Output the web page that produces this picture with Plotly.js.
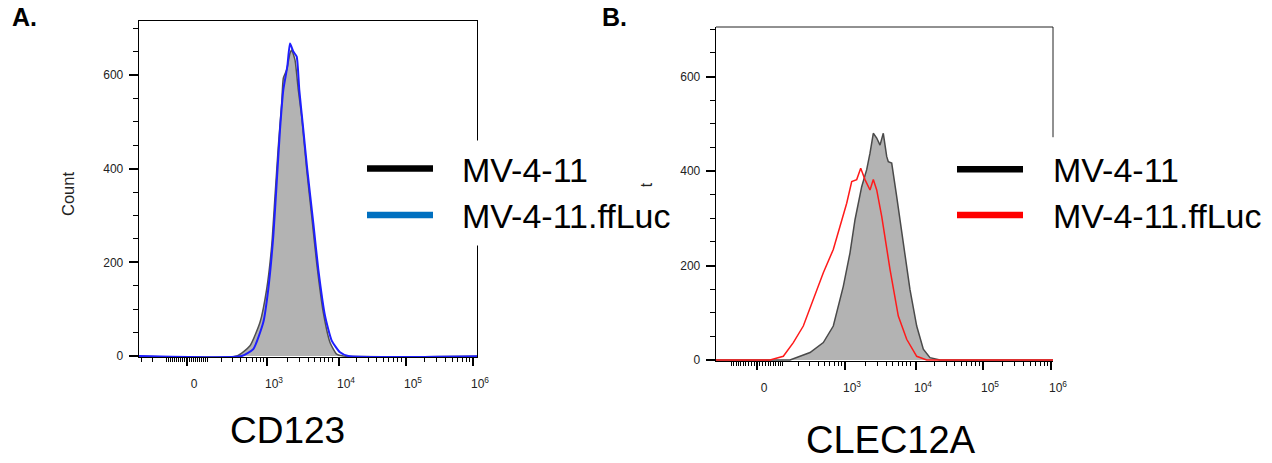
<!DOCTYPE html>
<html>
<head>
<meta charset="utf-8">
<script src="https://cdn.plot.ly/plotly-3.0.1.min.js"></script>
<style>html,body{margin:0;padding:0;background:#fff}#chart{width:1272px;height:463px}</style>
</head>
<body>
<div id="chart"></div>
<script>
// ---- Data (x in display units of the biexponential axis, y = cell count) ----
const cd123_parent_x = [-1.7, 1.668, 2.114, 2.450, 2.674, 2.842, 2.953, 3.064, 3.178, 3.232, 3.346, 3.456, 3.513, 3.624, 3.735, 3.849, 4.017, 4.185, 4.352, 4.574, 4.799, 5.023, 5.245, 10];
const cd123_parent_y = [0, 0, 22, 72, 143, 235, 341, 447, 540, 593, 611, 646, 653, 632, 568, 511, 398, 299, 199, 93, 29, 4, 0, 0];
const cd123_fluc_x = [-1.7, 1.836, 2.225, 2.560, 2.728, 2.896, 3.010, 3.121, 3.232, 3.366, 3.456, 3.567, 3.681, 3.768, 3.903, 4.037, 4.238, 4.406, 4.631, 4.856, 5.134, 5.413, 10];
const cd123_fluc_y = [0, 0, 15, 72, 143, 256, 370, 483, 568, 618, 667, 650, 639, 568, 483, 398, 284, 185, 86, 33, 8, 0, 0];

const clec_parent_x = [-1.5, 1.107, 1.779, 2.225, 2.560, 2.896, 3.121, 3.289, 3.513, 3.681, 3.792, 3.903, 4.017, 4.128, 4.238, 4.352, 4.406, 4.520, 4.688, 4.909, 5.134, 5.359, 5.581, 5.805, 6.141, 10.2];
const clec_parent_y = [0, 0, 16, 37, 72, 156, 227, 297, 367, 403, 438, 480, 470, 455, 480, 431, 420, 417, 346, 248, 149, 72, 23, 5, 0, 0];
const clec_fluc_x = [-1.5, 0.436, 0.883, 1.218, 1.554, 1.889, 2.225, 2.560, 2.785, 3.010, 3.178, 3.346, 3.480, 3.624, 3.792, 3.903, 4.017, 4.185, 4.463, 4.742, 5.023, 5.359, 5.695, 10.2];
const clec_fluc_y = [0, 0, 8, 37, 72, 128, 185, 234, 283, 332, 378, 382, 406, 382, 360, 382, 360, 304, 192, 93, 44, 8, 0, 0];

const seriesNames = ["MV-4-11", "MV-4-11.ffLuc"];
const markerNames = ["CD123", "CLEC12A"];
const xTickText = ["0", "10<sup>3</sup>", "10<sup>4</sup>", "10<sup>5</sup>", "10<sup>6</sup>"];
const xTickValsA = [0, 2.685, 5.101, 7.349, 9.597];
const xTickValsB = [0, 2.953, 5.336, 7.584, 9.866];
const yTickVals = [0, 200, 400, 600];

// minor ticks on biexponential axis (asinh transform)
function minorTicks(c) {
  const out = [];
  const vals = [];
  for (let k = 1; k <= 9; k++) { vals.push(k * 10, -k * 10, k * 100, -k * 100); }
  for (let d = 1e3; d < 1e6; d *= 10) for (let k = 2; k <= 9; k++) vals.push(k * d);
  vals.forEach(v => out.push(Math.asinh(v / c)));
  return out;
}

const W = 1272, H = 463;
const px = v => v / W, py = v => 1 - v / H;

const font = "Liberation Sans, Arial, sans-serif";

function xAxis(dom, range, tickvals, c, mirror) {
  return {
    domain: dom, range: range, tickmode: "array", tickvals: tickvals, ticktext: xTickText,
    ticks: "outside", ticklen: 8, tickwidth: 2, tickcolor: "#000",
    showline: true, linecolor: "#000", linewidth: 1.3, mirror: mirror,
    showgrid: false, zeroline: false, ticklabelstandoff: 7, ticklabelshift: 7,
    tickfont: {family: font, size: 12, color: "#222"},
    minor: {tickmode: "array", tickvals: minorTicks(c), ticks: "outside", ticklen: 4, tickwidth: 1, tickcolor: "#000", showgrid: false},
    fixedrange: true
  };
}
function yAxis(dom, range, anchor, mirror) {
  return {
    domain: dom, range: range, anchor: anchor, tickmode: "array", tickvals: yTickVals,
    ticks: "outside", ticklen: 9, tickwidth: 2, tickcolor: "#000",
    showline: true, linecolor: "#000", linewidth: 1.3, mirror: mirror,
    showgrid: false, zeroline: false, ticklabelstandoff: 3,
    tickfont: {family: font, size: 12, color: "#222"},
    minor: {dtick: 50, tick0: 0, ticks: "outside", ticklen: 5, tickwidth: 1, tickcolor: "#000", showgrid: false},
    fixedrange: true
  };
}

const traces = [
  {x: cd123_parent_x, y: cd123_parent_y, xaxis: "x", yaxis: "y", type: "scatter", mode: "lines",
   fill: "tozeroy", fillcolor: "#b3b3b3", line: {color: "#505050", width: 1.5, shape: "spline", smoothing: 0.5}, name: seriesNames[0]},
  {x: cd123_fluc_x, y: cd123_fluc_y, xaxis: "x", yaxis: "y", type: "scatter", mode: "lines",
   line: {color: "#1f1fff", width: 2, shape: "spline", smoothing: 0.5}, name: seriesNames[1]},
  {x: clec_parent_x, y: clec_parent_y, xaxis: "x2", yaxis: "y2", type: "scatter", mode: "lines",
   fill: "tozeroy", fillcolor: "#b3b3b3", line: {color: "#4a4a4a", width: 1.5}, name: seriesNames[0]},
  {x: clec_fluc_x, y: clec_fluc_y, xaxis: "x2", yaxis: "y2", type: "scatter", mode: "lines",
   line: {color: "#ff1a1a", width: 1.5}, name: seriesNames[1]}
];

const ann = [];
const textAnn = (x, y, text, size, extra) => Object.assign({
  xref: "paper", yref: "paper", x: px(x), y: py(y), text: text, showarrow: false,
  xanchor: "center", yanchor: "middle", font: {family: font, size: size, color: "#000"}
}, extra || {});

ann.push(textAnn(10, 17, "<b>A.</b>", 25, {xanchor: "left"}));
ann.push(textAnn(600, 17, "<b>B.</b>", 25, {xanchor: "left"}));
ann.push(textAnn(68, 194, "Count", 16.5, {textangle: -90, font: {family: font, size: 16.5, color: "#222"}}));
ann.push(textAnn(646, 205, "Count", 16.5, {textangle: -90, font: {family: font, size: 16.5, color: "#222"}}));
ann.push(textAnn(287, 430, markerNames[0], 37));
ann.push(textAnn(891, 440, markerNames[1], 38));
// legend texts (white boxes)
[[451, 170, seriesNames[0]], [451, 216.5, seriesNames[1]], [1042, 170, seriesNames[0]], [1042, 216.5, seriesNames[1]]].forEach(d => {
  ann.push(textAnn(d[0], d[1], d[2], 34, {xanchor: "left", bgcolor: "#fff", borderpad: 10}));
});

const shapes = [];
const seg = (x0, y0, x1, y1, color, w) => ({type: "line", xref: "paper", yref: "paper",
  x0: px(x0), y0: py(y0), x1: px(x1), y1: py(y1), line: {color: color, width: w}, layer: "above"});
shapes.push(seg(367, 168.5, 433, 168.5, "#000", 6.5));
shapes.push(seg(367, 215, 433, 215, "#0070c0", 6.5));
shapes.push(seg(957, 169.3, 1023, 169.3, "#000", 6.5));
shapes.push(seg(957, 215, 1023, 215, "#ff0000", 6.5));
// right panel frame (top and upper right side)
shapes.push({type: "line", xref: "x2 domain", yref: "y2 domain", x0: 0, x1: 1, y0: 1, y1: 1, line: {color: "#222", width: 1}});
shapes.push({type: "line", xref: "x2 domain", yref: "y2 domain", x0: 1, x1: 1, y0: 1, y1: 0.67, line: {color: "#222", width: 1}});

const layout = {
  width: W, height: H, margin: {l: 0, r: 0, t: 0, b: 0},
  paper_bgcolor: "#fff", plot_bgcolor: "#fff", showlegend: false,
  xaxis: xAxis([px(139), px(477)], [-1.611, 9.732], xTickValsA, 136.7, true),
  yaxis: yAxis([py(357), py(21)], [-2, 715], "x", true),
  xaxis2: xAxis([px(716), px(1053)], [-1.376, 9.933], xTickValsB, 104.6, false),
  yaxis2: yAxis([py(361), py(27)], [-2, 705], "x2", false),
  annotations: ann, shapes: shapes
};
layout.xaxis2.anchor = "y2";
layout.xaxis.anchor = "y";

Plotly.newPlot("chart", traces, layout, {staticPlot: true, displayModeBar: false});
</script>
</body>
</html>
